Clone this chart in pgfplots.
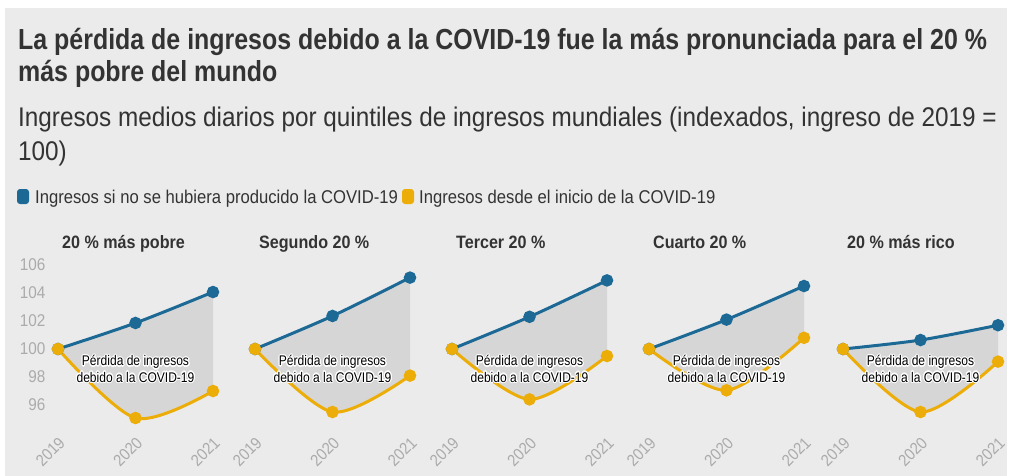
\documentclass[border=0pt]{standalone}
\usepackage{pgfplots}
\pgfplotsset{compat=1.18}
\usepackage{pgfplotstable}
\usepgfplotslibrary{fillbetween}
\usepackage{fontspec}
\usepackage{contour}
\contourlength{1.1pt}
\contournumber{16}
\setmainfont{Liberation Sans}[FakeStretch=0.90]
\newfontfamily\titlefont{Liberation Sans}[FakeStretch=0.86]
\newfontfamily\subfont{Liberation Sans}[FakeStretch=0.90]
\newfontfamily\areafont{Liberation Sans}[FakeStretch=0.86]

\definecolor{cblue}{HTML}{1D6996}
\definecolor{cyellow}{HTML}{EDAD08}
\definecolor{fillg}{HTML}{D6D6D6}
\definecolor{bg}{HTML}{EBEBEB}
\definecolor{tgray}{HTML}{ABABAB}
\definecolor{dark}{HTML}{333333}

\pgfplotstableread{
year blue yellow
2019 100 100
2020 101.86 95.07
2021 104.07 97.0
}\dataA
\pgfplotstableread{
year blue yellow
2019 100 100
2020 102.36 95.5
2021 105.1 98.1
}\dataB
\pgfplotstableread{
year blue yellow
2019 100 100
2020 102.3 96.4
2021 104.9 99.5
}\dataC
\pgfplotstableread{
year blue yellow
2019 100 100
2020 102.1 97.05
2021 104.5 100.8
}\dataD
\pgfplotstableread{
year blue yellow
2019 100 100
2020 100.64 95.5
2021 101.7 99.1
}\dataE

\pgfplotsset{
  panelstyle/.style={
    scale only axis, width=155pt, height=168pt, anchor=south west,
    xmin=2019, xmax=2021, ymin=94, ymax=106,
    axis line style={draw=none}, major tick length=0pt,
    xtick={2019,2020,2021}, xticklabels={2019,2020,2021},
    xticklabel shift=7pt,
    xticklabel style={xshift=4pt, rotate=45, anchor=east, inner sep=0pt, font=\fontsize{16.5}{16.5}\selectfont, text=tgray},
    yticklabel style={font=\fontsize{17}{17}\selectfont, text=tgray, xshift=-9pt},
    ytick=\empty, clip=false,
    /pgf/number format/assume math mode=true,
  }
}

\newcommand{\panel}[4]{%
\begin{axis}[panelstyle, at={(#1pt,-433pt)}, #4]
\addplot[draw=none, name path=B, smooth] table[x=year,y=blue]{#2};
\addplot[draw=none, name path=Y, smooth] table[x=year,y=yellow]{#2};
\addplot[fill=fillg, draw=none] fill between[of=B and Y, on layer=main];
\addplot[cblue, line width=3pt, smooth, mark=*, mark size=4.7pt, mark options={solid}] table[x=year,y=blue]{#2};
\addplot[cyellow, line width=3pt, smooth, mark=*, mark size=4.7pt, mark options={solid}] table[x=year,y=yellow]{#2};
\node[font=\areafont\fontsize{14}{14}\selectfont, anchor=base, inner sep=0pt] at (axis cs:2020,98.79) {\contour{white}{Pérdida de ingresos}};
\node[font=\areafont\fontsize{14}{14}\selectfont, anchor=base, inner sep=0pt] at (axis cs:2020,97.64) {\contour{white}{debido a la COVID-19}};
\end{axis}
\node[anchor=base west, inner sep=0pt, font=\fontsize{17.9}{18}\selectfont\bfseries, text=dark] at (#1pt+4pt,-248pt) {#3};
}

\begin{document}
\begin{tikzpicture}
\fill[white] (0,0) rectangle (1011pt,-476pt);
\fill[bg] (5pt,-8pt) rectangle (1007pt,-476pt);

\node[anchor=base west, text=dark, inner sep=0pt, font=\titlefont\fontsize{29}{32}\selectfont\bfseries] at (18pt,-50pt) {La pérdida de ingresos debido a la COVID-19 fue la más pronunciada para el 20 \%};
\node[anchor=base west, text=dark, inner sep=0pt, font=\titlefont\fontsize{29}{32}\selectfont\bfseries] at (18pt,-82pt) {más pobre del mundo};
\node[anchor=base west, text=dark, inner sep=0pt, font=\subfont\fontsize{27}{30}\selectfont] at (18pt,-127pt) {Ingresos medios diarios por quintiles de ingresos mundiales (indexados, ingreso de 2019 =};
\node[anchor=base west, text=dark, inner sep=0pt, font=\subfont\fontsize{27}{30}\selectfont] at (18pt,-160pt) {100)};

\fill[cblue, rounded corners=3pt] (17pt,-189pt) rectangle (29pt,-204pt);
\node[anchor=base west, text=dark, inner sep=0pt, font=\fontsize{18.5}{18}\selectfont] at (35pt,-203pt) {Ingresos si no se hubiera producido la COVID-19};
\fill[cyellow, rounded corners=3pt] (402pt,-189pt) rectangle (414pt,-204pt);
\node[anchor=base west, text=dark, inner sep=0pt, font=\fontsize{18.5}{18}\selectfont] at (419pt,-203pt) {Ingresos desde el inicio de la COVID-19};

\panel{58}{\dataA}{20 \% más pobre}{ytick={96,98,...,106}}
\panel{255}{\dataB}{Segundo 20 \%}{}
\panel{452}{\dataC}{Tercer 20 \%}{}
\panel{649}{\dataD}{Cuarto 20 \%}{}
\panel{843}{\dataE}{20 \% más rico}{}
\pgfresetboundingbox
\path[use as bounding box] (0,0) rectangle (1011pt,-476pt);
\end{tikzpicture}
\end{document}
